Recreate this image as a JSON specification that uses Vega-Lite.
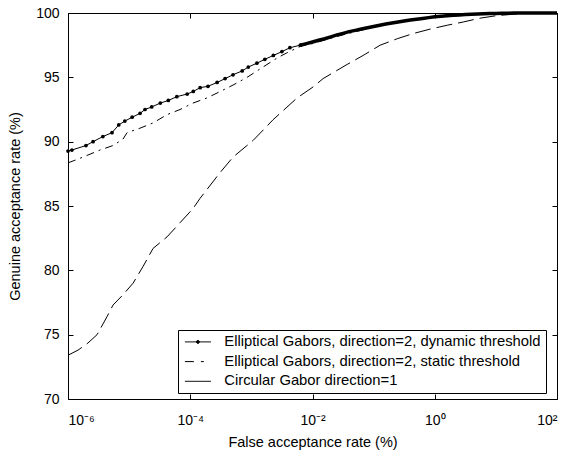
{
  "$schema": "https://vega.github.io/schema/vega-lite/v6.json",
  "width": 489,
  "height": 386,
  "autosize": {"type": "none"},
  "padding": {"left": 68, "top": 13, "right": 10, "bottom": 58},
  "background": "white",
  "config": {
    "view": {"stroke": "black", "strokeWidth": 1},
    "font": "Liberation Sans",
    "axis": {
      "grid": false,
      "domain": false,
      "ticks": true,
      "tickColor": "black",
      "tickWidth": 1,
      "tickOpacity": 1,
      "labelColor": "black",
      "labelFont": "Liberation Sans",
      "labelFontSize": 14,
      "titleFont": "Liberation Sans",
      "titleFontSize": 14.5,
      "titleFontWeight": "normal",
      "titleColor": "black"
    },
    "legend": {
      "labelFont": "Liberation Sans",
      "labelFontSize": 14.8,
      "labelColor": "black"
    }
  },
  "data": {
    "values": [
      {"s": "Elliptical Gabors, direction=2, dynamic threshold", "x": 1e-6, "y": 89.27},
      {"s": "Elliptical Gabors, direction=2, dynamic threshold", "x": 1.16e-6, "y": 89.35},
      {"s": "Elliptical Gabors, direction=2, dynamic threshold", "x": 1.97e-6, "y": 89.7},
      {"s": "Elliptical Gabors, direction=2, dynamic threshold", "x": 2.57e-6, "y": 90.0},
      {"s": "Elliptical Gabors, direction=2, dynamic threshold", "x": 3.72e-6, "y": 90.4},
      {"s": "Elliptical Gabors, direction=2, dynamic threshold", "x": 5.25e-6, "y": 90.7},
      {"s": "Elliptical Gabors, direction=2, dynamic threshold", "x": 6.76e-6, "y": 91.3},
      {"s": "Elliptical Gabors, direction=2, dynamic threshold", "x": 8.51e-6, "y": 91.6},
      {"s": "Elliptical Gabors, direction=2, dynamic threshold", "x": 1.12e-5, "y": 91.9},
      {"s": "Elliptical Gabors, direction=2, dynamic threshold", "x": 1.51e-5, "y": 92.2},
      {"s": "Elliptical Gabors, direction=2, dynamic threshold", "x": 1.82e-5, "y": 92.5},
      {"s": "Elliptical Gabors, direction=2, dynamic threshold", "x": 2.34e-5, "y": 92.7},
      {"s": "Elliptical Gabors, direction=2, dynamic threshold", "x": 3.24e-5, "y": 93.0},
      {"s": "Elliptical Gabors, direction=2, dynamic threshold", "x": 4.37e-5, "y": 93.2},
      {"s": "Elliptical Gabors, direction=2, dynamic threshold", "x": 6.03e-5, "y": 93.5},
      {"s": "Elliptical Gabors, direction=2, dynamic threshold", "x": 8.91e-5, "y": 93.7},
      {"s": "Elliptical Gabors, direction=2, dynamic threshold", "x": 1.12e-4, "y": 93.9},
      {"s": "Elliptical Gabors, direction=2, dynamic threshold", "x": 1.45e-4, "y": 94.2},
      {"s": "Elliptical Gabors, direction=2, dynamic threshold", "x": 1.95e-4, "y": 94.3},
      {"s": "Elliptical Gabors, direction=2, dynamic threshold", "x": 2.75e-4, "y": 94.6},
      {"s": "Elliptical Gabors, direction=2, dynamic threshold", "x": 3.72e-4, "y": 94.9},
      {"s": "Elliptical Gabors, direction=2, dynamic threshold", "x": 5.01e-4, "y": 95.2},
      {"s": "Elliptical Gabors, direction=2, dynamic threshold", "x": 7.08e-4, "y": 95.5},
      {"s": "Elliptical Gabors, direction=2, dynamic threshold", "x": 8.91e-4, "y": 95.8},
      {"s": "Elliptical Gabors, direction=2, dynamic threshold", "x": 1.23e-3, "y": 96.1},
      {"s": "Elliptical Gabors, direction=2, dynamic threshold", "x": 1.66e-3, "y": 96.4},
      {"s": "Elliptical Gabors, direction=2, dynamic threshold", "x": 2.29e-3, "y": 96.7},
      {"s": "Elliptical Gabors, direction=2, dynamic threshold", "x": 3.16e-3, "y": 97.0},
      {"s": "Elliptical Gabors, direction=2, dynamic threshold", "x": 4.27e-3, "y": 97.3},
      {"s": "Elliptical Gabors, direction=2, dynamic threshold", "x": 0.00631, "y": 97.5},
      {"s": "Elliptical Gabors, direction=2, dynamic threshold", "x": 0.00794, "y": 97.62},
      {"s": "Elliptical Gabors, direction=2, dynamic threshold", "x": 0.01, "y": 97.75},
      {"s": "Elliptical Gabors, direction=2, dynamic threshold", "x": 0.01259, "y": 97.88},
      {"s": "Elliptical Gabors, direction=2, dynamic threshold", "x": 0.01585, "y": 98.0},
      {"s": "Elliptical Gabors, direction=2, dynamic threshold", "x": 0.01995, "y": 98.15},
      {"s": "Elliptical Gabors, direction=2, dynamic threshold", "x": 0.02512, "y": 98.3},
      {"s": "Elliptical Gabors, direction=2, dynamic threshold", "x": 0.03162, "y": 98.42},
      {"s": "Elliptical Gabors, direction=2, dynamic threshold", "x": 0.03981, "y": 98.55},
      {"s": "Elliptical Gabors, direction=2, dynamic threshold", "x": 0.05012, "y": 98.65},
      {"s": "Elliptical Gabors, direction=2, dynamic threshold", "x": 0.0631, "y": 98.75},
      {"s": "Elliptical Gabors, direction=2, dynamic threshold", "x": 0.07943, "y": 98.85},
      {"s": "Elliptical Gabors, direction=2, dynamic threshold", "x": 0.1, "y": 98.95},
      {"s": "Elliptical Gabors, direction=2, dynamic threshold", "x": 0.1259, "y": 99.05},
      {"s": "Elliptical Gabors, direction=2, dynamic threshold", "x": 0.1585, "y": 99.15},
      {"s": "Elliptical Gabors, direction=2, dynamic threshold", "x": 0.1995, "y": 99.22},
      {"s": "Elliptical Gabors, direction=2, dynamic threshold", "x": 0.2512, "y": 99.3},
      {"s": "Elliptical Gabors, direction=2, dynamic threshold", "x": 0.3162, "y": 99.38},
      {"s": "Elliptical Gabors, direction=2, dynamic threshold", "x": 0.3981, "y": 99.45},
      {"s": "Elliptical Gabors, direction=2, dynamic threshold", "x": 0.5012, "y": 99.52},
      {"s": "Elliptical Gabors, direction=2, dynamic threshold", "x": 0.631, "y": 99.58},
      {"s": "Elliptical Gabors, direction=2, dynamic threshold", "x": 0.7943, "y": 99.64},
      {"s": "Elliptical Gabors, direction=2, dynamic threshold", "x": 1, "y": 99.7},
      {"s": "Elliptical Gabors, direction=2, dynamic threshold", "x": 1.259, "y": 99.74},
      {"s": "Elliptical Gabors, direction=2, dynamic threshold", "x": 1.585, "y": 99.78},
      {"s": "Elliptical Gabors, direction=2, dynamic threshold", "x": 1.995, "y": 99.82},
      {"s": "Elliptical Gabors, direction=2, dynamic threshold", "x": 2.512, "y": 99.85},
      {"s": "Elliptical Gabors, direction=2, dynamic threshold", "x": 3.162, "y": 99.88},
      {"s": "Elliptical Gabors, direction=2, dynamic threshold", "x": 3.981, "y": 99.9},
      {"s": "Elliptical Gabors, direction=2, dynamic threshold", "x": 5.012, "y": 99.92},
      {"s": "Elliptical Gabors, direction=2, dynamic threshold", "x": 6.31, "y": 99.94},
      {"s": "Elliptical Gabors, direction=2, dynamic threshold", "x": 7.943, "y": 99.96},
      {"s": "Elliptical Gabors, direction=2, dynamic threshold", "x": 10, "y": 99.97},
      {"s": "Elliptical Gabors, direction=2, dynamic threshold", "x": 12.59, "y": 99.98},
      {"s": "Elliptical Gabors, direction=2, dynamic threshold", "x": 15.85, "y": 99.99},
      {"s": "Elliptical Gabors, direction=2, dynamic threshold", "x": 19.95, "y": 100},
      {"s": "Elliptical Gabors, direction=2, dynamic threshold", "x": 25.12, "y": 100},
      {"s": "Elliptical Gabors, direction=2, dynamic threshold", "x": 31.62, "y": 100},
      {"s": "Elliptical Gabors, direction=2, dynamic threshold", "x": 39.81, "y": 100},
      {"s": "Elliptical Gabors, direction=2, dynamic threshold", "x": 50.12, "y": 100},
      {"s": "Elliptical Gabors, direction=2, dynamic threshold", "x": 63.1, "y": 100},
      {"s": "Elliptical Gabors, direction=2, dynamic threshold", "x": 79.43, "y": 100},
      {"s": "Elliptical Gabors, direction=2, dynamic threshold", "x": 100, "y": 100},

      {"s": "Elliptical Gabors, direction=2, static threshold", "x": 1e-6, "y": 88.35},
      {"s": "Elliptical Gabors, direction=2, static threshold", "x": 1.76e-6, "y": 88.8},
      {"s": "Elliptical Gabors, direction=2, static threshold", "x": 3.34e-6, "y": 89.35},
      {"s": "Elliptical Gabors, direction=2, static threshold", "x": 5.45e-6, "y": 89.7},
      {"s": "Elliptical Gabors, direction=2, static threshold", "x": 7.94e-6, "y": 90.2},
      {"s": "Elliptical Gabors, direction=2, static threshold", "x": 9.25e-6, "y": 90.7},
      {"s": "Elliptical Gabors, direction=2, static threshold", "x": 1.51e-5, "y": 91.05},
      {"s": "Elliptical Gabors, direction=2, static threshold", "x": 2.45e-5, "y": 91.45},
      {"s": "Elliptical Gabors, direction=2, static threshold", "x": 4.17e-5, "y": 92.1},
      {"s": "Elliptical Gabors, direction=2, static threshold", "x": 6.81e-5, "y": 92.5},
      {"s": "Elliptical Gabors, direction=2, static threshold", "x": 1.11e-4, "y": 93.0},
      {"s": "Elliptical Gabors, direction=2, static threshold", "x": 1.88e-4, "y": 93.4},
      {"s": "Elliptical Gabors, direction=2, static threshold", "x": 3.09e-4, "y": 93.9},
      {"s": "Elliptical Gabors, direction=2, static threshold", "x": 5.01e-4, "y": 94.4},
      {"s": "Elliptical Gabors, direction=2, static threshold", "x": 8.51e-4, "y": 95.0},
      {"s": "Elliptical Gabors, direction=2, static threshold", "x": 1.55e-3, "y": 95.8},
      {"s": "Elliptical Gabors, direction=2, static threshold", "x": 2.63e-3, "y": 96.5},
      {"s": "Elliptical Gabors, direction=2, static threshold", "x": 3.8e-3, "y": 96.9},
      {"s": "Elliptical Gabors, direction=2, static threshold", "x": 6.31e-3, "y": 97.4},
      {"s": "Elliptical Gabors, direction=2, static threshold", "x": 0.01, "y": 97.62},
      {"s": "Elliptical Gabors, direction=2, static threshold", "x": 0.01585, "y": 97.9},
      {"s": "Elliptical Gabors, direction=2, static threshold", "x": 0.03162, "y": 98.3},
      {"s": "Elliptical Gabors, direction=2, static threshold", "x": 0.1, "y": 98.9},
      {"s": "Elliptical Gabors, direction=2, static threshold", "x": 0.3162, "y": 99.35},
      {"s": "Elliptical Gabors, direction=2, static threshold", "x": 1, "y": 99.65},
      {"s": "Elliptical Gabors, direction=2, static threshold", "x": 3.162, "y": 99.85},
      {"s": "Elliptical Gabors, direction=2, static threshold", "x": 10, "y": 99.95},
      {"s": "Elliptical Gabors, direction=2, static threshold", "x": 31.62, "y": 100},
      {"s": "Elliptical Gabors, direction=2, static threshold", "x": 100, "y": 100},

      {"s": "Circular Gabor direction=1", "x": 1e-6, "y": 73.4},
      {"s": "Circular Gabor direction=1", "x": 1.46e-6, "y": 73.8},
      {"s": "Circular Gabor direction=1", "x": 2.12e-6, "y": 74.35},
      {"s": "Circular Gabor direction=1", "x": 2.99e-6, "y": 75.0},
      {"s": "Circular Gabor direction=1", "x": 4.35e-6, "y": 76.4},
      {"s": "Circular Gabor direction=1", "x": 5.45e-6, "y": 77.3},
      {"s": "Circular Gabor direction=1", "x": 7.94e-6, "y": 78.1},
      {"s": "Circular Gabor direction=1", "x": 1.16e-5, "y": 79.0},
      {"s": "Circular Gabor direction=1", "x": 1.69e-5, "y": 80.3},
      {"s": "Circular Gabor direction=1", "x": 2.46e-5, "y": 81.7},
      {"s": "Circular Gabor direction=1", "x": 4.17e-5, "y": 82.6},
      {"s": "Circular Gabor direction=1", "x": 6.81e-5, "y": 83.7},
      {"s": "Circular Gabor direction=1", "x": 1.11e-4, "y": 84.8},
      {"s": "Circular Gabor direction=1", "x": 1.45e-4, "y": 85.6},
      {"s": "Circular Gabor direction=1", "x": 3.08e-4, "y": 87.6},
      {"s": "Circular Gabor direction=1", "x": 5.01e-4, "y": 88.8},
      {"s": "Circular Gabor direction=1", "x": 1.07e-3, "y": 90.1},
      {"s": "Circular Gabor direction=1", "x": 2.26e-3, "y": 91.7},
      {"s": "Circular Gabor direction=1", "x": 2.95e-3, "y": 92.2},
      {"s": "Circular Gabor direction=1", "x": 5.6e-3, "y": 93.4},
      {"s": "Circular Gabor direction=1", "x": 0.0102, "y": 94.25},
      {"s": "Circular Gabor direction=1", "x": 0.0149, "y": 94.9},
      {"s": "Circular Gabor direction=1", "x": 0.0368, "y": 96.0},
      {"s": "Circular Gabor direction=1", "x": 0.0673, "y": 96.7},
      {"s": "Circular Gabor direction=1", "x": 0.128, "y": 97.5},
      {"s": "Circular Gabor direction=1", "x": 0.243, "y": 98.0},
      {"s": "Circular Gabor direction=1", "x": 0.443, "y": 98.4},
      {"s": "Circular Gabor direction=1", "x": 0.841, "y": 98.75},
      {"s": "Circular Gabor direction=1", "x": 1.6, "y": 99.05},
      {"s": "Circular Gabor direction=1", "x": 2.92, "y": 99.3},
      {"s": "Circular Gabor direction=1", "x": 5.53, "y": 99.6},
      {"s": "Circular Gabor direction=1", "x": 10.5, "y": 99.8},
      {"s": "Circular Gabor direction=1", "x": 19.2, "y": 99.9},
      {"s": "Circular Gabor direction=1", "x": 36.3, "y": 100},
      {"s": "Circular Gabor direction=1", "x": 100, "y": 100}
    ]
  },
  "layer": [
    {
      "transform": [{"filter": "indexof(datum.s, 'static') >= 0"}],
      "mark": {"type": "line", "color": "black", "strokeWidth": 1, "strokeDash": [8, 5, 2, 5]},
      "encoding": {
        "x": {
          "field": "x", "type": "quantitative",
          "scale": {"type": "log", "domain": [1e-6, 100]},
          "axis": {
            "orient": "bottom",
            "offset": -5,
            "tickSize": 5,
            "ticks": true,
            "values": [1e-6, 1e-4, 1e-2, 1, 100],
            "labelExpr": "datum.value < 1e-5 ? '10⁻⁶' : datum.value < 1e-3 ? '10⁻⁴' : datum.value < 0.1 ? '10⁻²' : datum.value < 10 ? '10⁰' : '10²'",
            "labelPadding": 14,
            "title": "False acceptance rate (%)",
            "titlePadding": 8
          }
        },
        "y": {
          "field": "y", "type": "quantitative",
          "scale": {"domain": [70, 100]},
          "axis": {
            "orient": "left",
            "offset": -5,
            "tickSize": 5,
            "ticks": true,
            "values": [70, 75, 80, 85, 90, 95, 100],
            "labelPadding": 9,
            "title": "Genuine acceptance rate (%)",
            "titlePadding": 13
          }
        }
      }
    },
    {
      "transform": [{"filter": "indexof(datum.s, 'Circular') >= 0"}],
      "mark": {"type": "line", "color": "black", "strokeWidth": 1, "strokeDash": [16, 6]},
      "encoding": {
        "x": {"field": "x", "type": "quantitative", "axis": null},
        "y": {"field": "y", "type": "quantitative", "axis": null}
      }
    },
    {
      "transform": [{"filter": "indexof(datum.s, 'dynamic') >= 0"}],
      "mark": {"type": "line", "strokeWidth": 1},
      "encoding": {
        "x": {"field": "x", "type": "quantitative", "axis": null},
        "y": {"field": "y", "type": "quantitative", "axis": null},
        "color": {
          "field": "s", "type": "nominal",
          "scale": {
            "domain": ["Elliptical Gabors, direction=2, dynamic threshold", "Elliptical Gabors, direction=2, static threshold", "Circular Gabor direction=1"],
            "range": ["black", "black", "black"]
          },
          "legend": {
            "title": null,
            "orient": "none",
            "legendX": 110,
            "legendY": 317,
            "strokeColor": "black",
            "fillColor": "white",
            "padding": 4.5,
            "symbolType": "M-2.6,0L2.6,0",
            "symbolSize": 100,
            "symbolStrokeWidth": 1,
            "symbolOffset": 8,
            "labelOffset": 19,
            "rowPadding": 3.7,
            "labelLimit": 0,
            "encoding": {
              "symbols": {
                "shape": {"condition": {"test": "indexof(datum.value, 'dynamic') >= 0", "value": "M-2.6,0L2.6,0M-0.3,0A0.3,0.3,0,1,1,0.3,0A0.3,0.3,0,1,1,-0.3,0Z"}, "value": "M-2.6,0L2.6,0"},
                "fill": {"condition": {"test": "indexof(datum.value, 'dynamic') >= 0", "value": "black"}, "value": "transparent"},
                "stroke": {"value": "black"},
                "strokeDash": {"condition": {"test": "indexof(datum.value, 'static') >= 0", "value": [9, 7, 3, 7]}, "value": [1, 0]}
              }
            }
          }
        }
      }
    },
    {
      "transform": [{"filter": "indexof(datum.s, 'dynamic') >= 0 && datum.x < 0.007"}],
      "mark": {"type": "point", "filled": true, "color": "black", "size": 14, "opacity": 1},
      "encoding": {
        "x": {"field": "x", "type": "quantitative", "axis": null},
        "y": {"field": "y", "type": "quantitative", "axis": null}
      }
    },
    {
      "transform": [{"filter": "indexof(datum.s, 'dynamic') >= 0 && datum.x >= 0.006"}],
      "mark": {"type": "line", "color": "black", "strokeWidth": 3.5},
      "encoding": {
        "x": {"field": "x", "type": "quantitative", "axis": null},
        "y": {"field": "y", "type": "quantitative", "axis": null}
      }
    },
    {
      "mark": {"type": "point", "opacity": 0},
      "encoding": {
        "x": {
          "field": "x", "type": "quantitative",
          "axis": {"orient": "top", "offset": -5, "tickSize": 5, "ticks": true, "values": [1e-6, 1e-4, 1e-2, 1, 100], "labels": false, "title": null}
        },
        "y": {
          "field": "y", "type": "quantitative",
          "axis": {"orient": "right", "offset": -5, "tickSize": 5, "ticks": true, "values": [70, 75, 80, 85, 90, 95, 100], "labels": false, "title": null}
        }
      }
    }
  ],
  "resolve": {"axis": {"x": "independent", "y": "independent"}}
}
